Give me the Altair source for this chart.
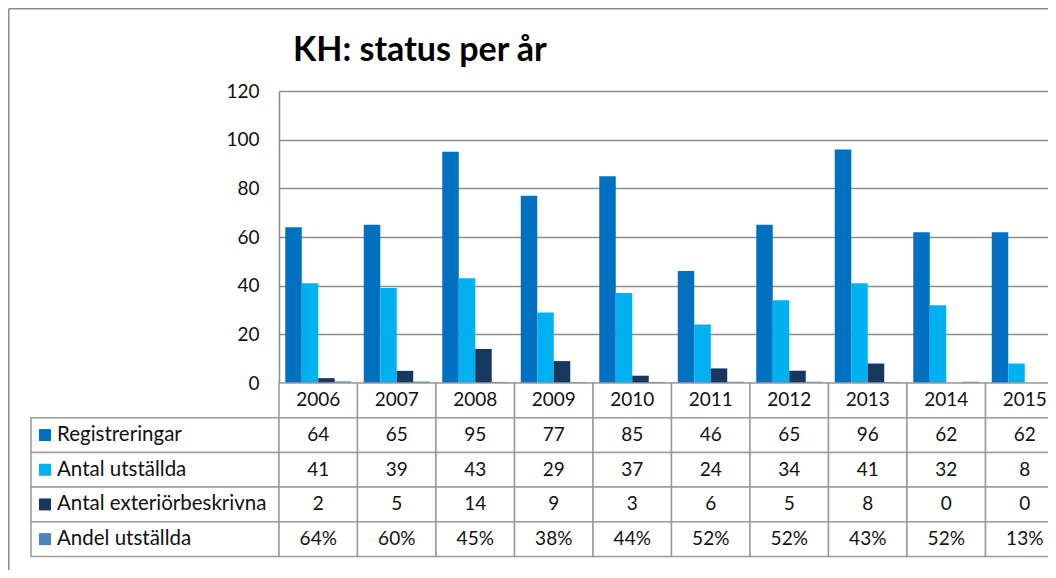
import altair as alt
import pandas as pd

# ---- data ----
years = ["2006", "2007", "2008", "2009", "2010", "2011", "2012", "2013", "2014", "2015"]
series = ["Registreringar", "Antal utställda", "Antal exteriörbeskrivna", "Andel utställda"]
registreringar = [64, 65, 95, 77, 85, 46, 65, 96, 62, 62]
antal_utstallda = [41, 39, 43, 29, 37, 24, 34, 41, 32, 8]
antal_exterior = [2, 5, 14, 9, 3, 6, 5, 8, 0, 0]
andel_utstallda = [0.64, 0.60, 0.45, 0.38, 0.44, 0.52, 0.52, 0.43, 0.52, 0.13]
colors = ["#0070C0", "#00B0F0", "#17375E", "#4F81BD"]
y_ticks = [0, 20, 40, 60, 80, 100, 120]
title_text = "KH: status per år"

FONT = "Lato"
GRID = "#8C8C8C"
BORDER = "#9A9A9A"
NUM_SIZE = 19
LEG_SIZE = 20.5

values_by_series = {
    "Registreringar": registreringar,
    "Antal utställda": antal_utstallda,
    "Antal exteriörbeskrivna": antal_exterior,
    "Andel utställda": andel_utstallda,
}

rows = []
for s in series:
    for y, v in zip(years, values_by_series[s]):
        label = f"{round(v * 100)}%" if s == "Andel utställda" else str(v)
        rows.append({"year": y, "series": s, "value": v, "label": label})
df = pd.DataFrame(rows)

row_order = ["hdr"] + series
hdr = pd.DataFrame({"year": years, "series": "hdr", "value": 0, "label": years})
table_df = pd.concat([hdr, df], ignore_index=True)

legend_df = pd.DataFrame({"col": "legend", "series": series})

color_scale = alt.Scale(domain=series, range=colors)

PAD_L, PAD_T = 23, 83
SVG_W, SVG_H = 1040, 562
PLOT_W = 785

# ---- top-left cell: chart-area frame ----
frame_df = pd.DataFrame({"k": [0]})
frame_left = alt.Chart(frame_df).mark_rule(color="#8C8C8C", strokeWidth=1.5).encode(
    x=alt.value(-PAD_L + 0.75), y=alt.value(-PAD_T + 0.75), y2=alt.value(SVG_H)
)
frame_top = alt.Chart(frame_df).mark_rule(color="#8C8C8C", strokeWidth=1.5).encode(
    x=alt.value(-PAD_L + 0.75), x2=alt.value(SVG_W), y=alt.value(-PAD_T + 0.75)
)
top_left = alt.layer(frame_left, frame_top).properties(width=248, height=292)

# ---- bar chart ----
bars = alt.Chart(df).mark_bar().encode(
    x=alt.X("year:N", sort=years, axis=None,
            scale=alt.Scale(domain=years, paddingInner=0, paddingOuter=0)),
    xOffset=alt.XOffset("series:N", sort=series,
                        scale=alt.Scale(domain=series, paddingInner=0, paddingOuter=0.38)),
    y=alt.Y("value:Q", scale=alt.Scale(domain=[0, 120], nice=False),
            axis=alt.Axis(values=y_ticks, title=None, grid=True, gridColor=GRID,
                          gridWidth=1.5, domainColor=GRID, domainWidth=1.5, ticks=False,
                          labelFont=FONT, labelFontSize=NUM_SIZE, labelColor="#111111",
                          labelPadding=20)),
    color=alt.Color("series:N", scale=color_scale, legend=None),
).properties(
    width=PLOT_W, height=292,
    title=alt.TitleParams(title_text, anchor="start", frame="group", dx=14, dy=34,
                          fontSize=34, font=FONT, fontWeight="bold", color="#000000",
                          baseline="alphabetic", offset=21),
)

# ---- legend column of the data table ----
leg_y = alt.Y("series:N", axis=None,
              scale=alt.Scale(domain=row_order, paddingInner=0, paddingOuter=0))
leg_cells = alt.Chart(legend_df).mark_rect(fill="white", stroke=BORDER, strokeWidth=1.5).encode(
    x=alt.X("col:N", axis=None, scale=alt.Scale(paddingInner=0, paddingOuter=0)),
    y=leg_y,
)
leg_swatch = alt.Chart(legend_df).mark_square(size=144, opacity=1, xOffset=14).encode(
    x=alt.X("col:N", axis=None, bandPosition=0,
            scale=alt.Scale(paddingInner=0, paddingOuter=0)),
    y=leg_y,
    color=alt.Color("series:N", scale=color_scale, legend=None),
)
leg_text = alt.Chart(legend_df).mark_text(align="left", baseline="middle", xOffset=26,
                                          font=FONT, fontSize=LEG_SIZE, color="#111111").encode(
    x=alt.X("col:N", axis=None, bandPosition=0,
            scale=alt.Scale(paddingInner=0, paddingOuter=0)),
    y=leg_y,
    text="series:N",
)
legend_table = alt.layer(leg_cells, leg_swatch, leg_text).properties(width=248, height=173.5)

# ---- values of the data table ----
tx = alt.X("year:N", sort=years, axis=None,
           scale=alt.Scale(domain=years, paddingInner=0, paddingOuter=0))
ty = alt.Y("series:N", axis=None,
           scale=alt.Scale(domain=row_order, paddingInner=0, paddingOuter=0))
cells = alt.Chart(table_df).mark_rect(fill="white", stroke=BORDER, strokeWidth=1.5).encode(
    x=tx, y=ty
)
cell_text = alt.Chart(table_df).mark_text(align="center", baseline="middle",
                                          font=FONT, fontSize=NUM_SIZE, color="#111111").encode(
    x=tx, y=ty, text="label:N"
)
value_table = alt.layer(cells, cell_text).properties(width=PLOT_W, height=173.5)

chart = alt.concat(
    top_left, bars, legend_table, value_table,
    columns=2, spacing=0, bounds="flush",
).properties(
    autosize=alt.AutoSizeParams(type="none"),
    padding={"left": PAD_L, "top": PAD_T, "right": SVG_W - PAD_L, "bottom": SVG_H - PAD_T},
    background="white",
).configure_view(stroke=None)

chart.save("out.html", embed_options={"renderer": "svg", "actions": False})
